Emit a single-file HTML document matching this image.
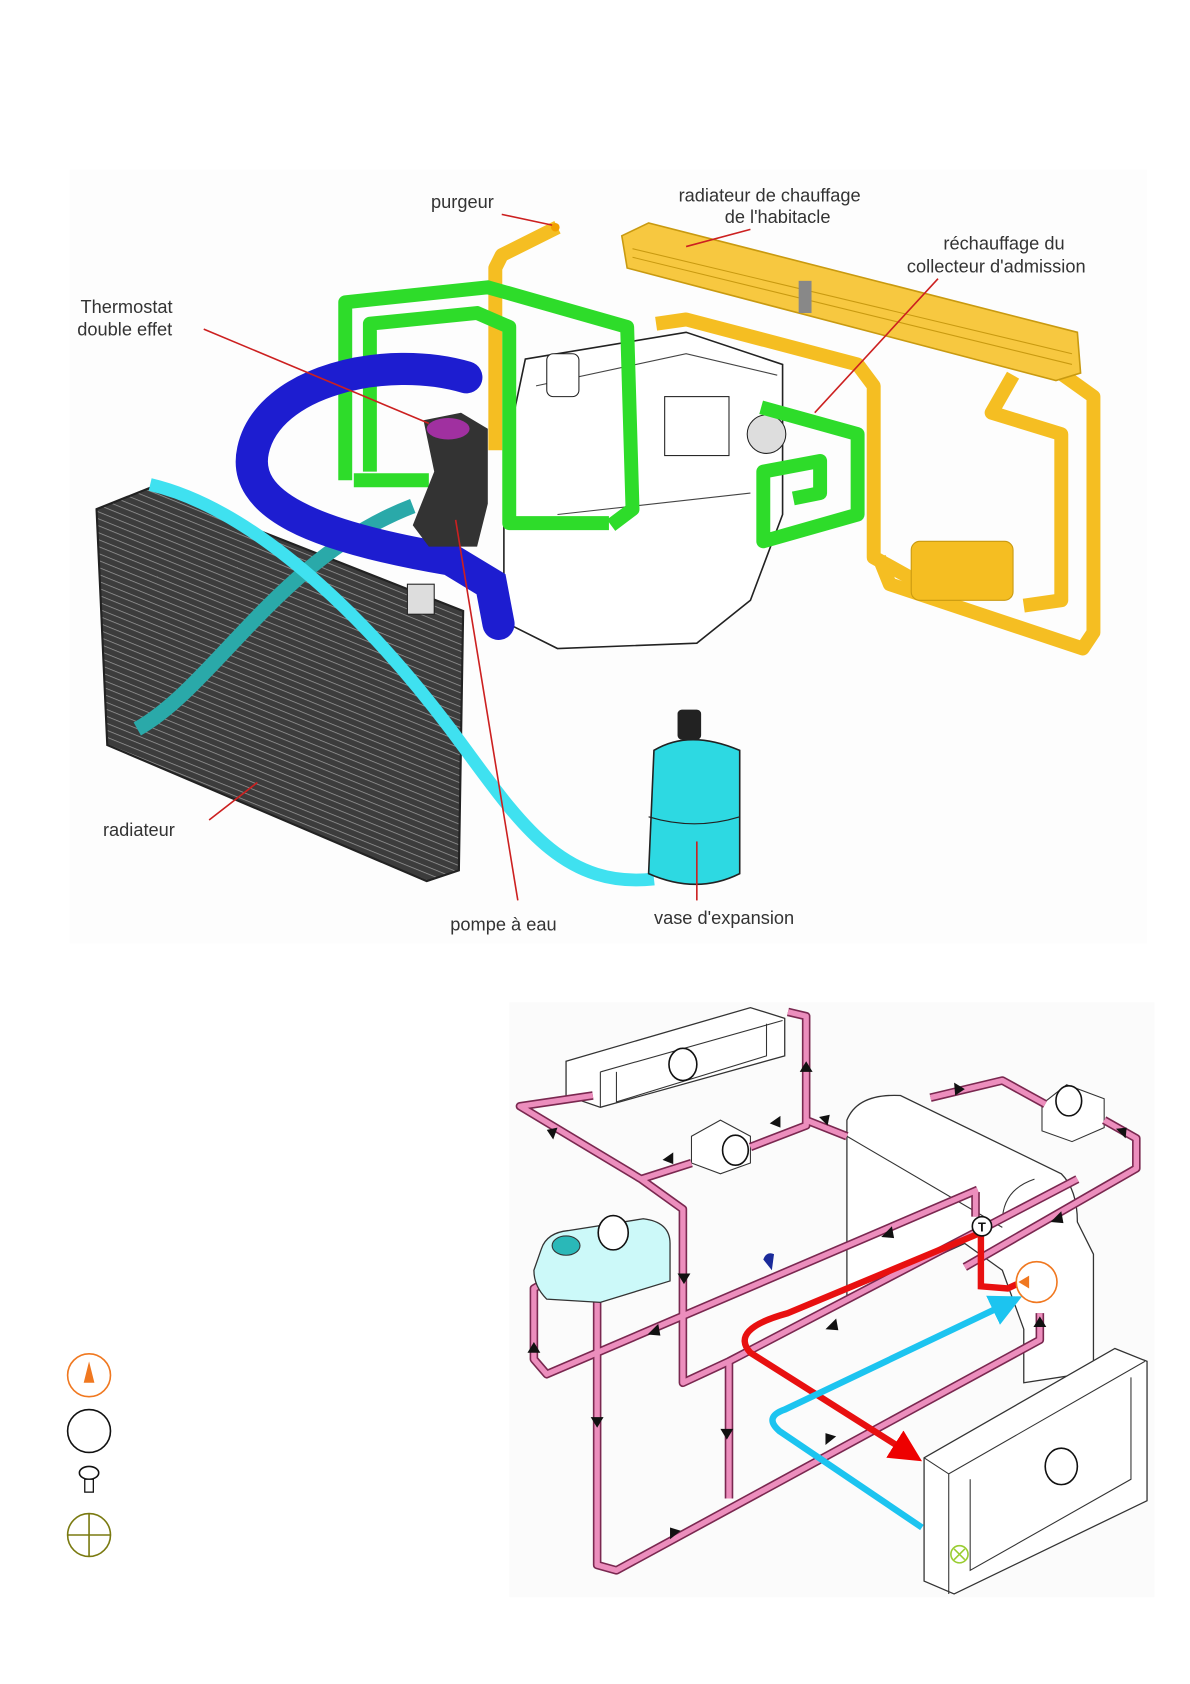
<!DOCTYPE html>
<html><head><meta charset="utf-8"><style>
html,body{margin:0;padding:0;background:#fff}
svg{display:block}
text{font-family:"Liberation Sans",sans-serif;fill:#333}
</style></head><body>
<svg width="1190" height="1684" viewBox="0 0 1110 1571" xmlns="http://www.w3.org/2000/svg">
<defs>
<pattern id="hatch" width="6" height="6" patternUnits="userSpaceOnUse" patternTransform="rotate(22)">
<rect width="6" height="6" fill="#3c3c3c"/><line x1="0" y1="0" x2="6" y2="0" stroke="#9a9a9a" stroke-width="1.4"/>
</pattern>
<marker id="ar" viewBox="0 0 10 10" refX="8" refY="5" markerWidth="5" markerHeight="5" orient="auto"><path d="M0,0L10,5L0,10z" fill="#e00"/></marker>
<marker id="ac" viewBox="0 0 10 10" refX="8" refY="5" markerWidth="5" markerHeight="5" orient="auto"><path d="M0,0L10,5L0,10z" fill="#1cc4f0"/></marker>
</defs>
<rect x="65" y="158" width="1005" height="722" fill="#fdfdfd"/>

<!-- engine block top -->
<path d="M490,335 L640,310 L730,340 L730,480 L700,560 L650,600 L520,605 L470,580 L470,430 Z" fill="#fff" stroke="#222" stroke-width="1.5"/>
<path d="M500,360 L640,330 L725,350 M520,480 L700,460" fill="none" stroke="#444" stroke-width="1"/>
<rect x="510" y="330" width="30" height="40" rx="6" fill="#fff" stroke="#222"/>
<rect x="620" y="370" width="60" height="55" fill="#fff" stroke="#222"/>
<circle cx="715" cy="405" r="18" fill="#ddd" stroke="#222"/>

<!-- yellow circuit -->
<g fill="none" stroke="#f5be22" stroke-width="13" stroke-linejoin="round">
<path d="M520,212 L468,238 L462,250 V420"/>
<path d="M612,302 L640,298 L800,340 L815,360 V520 L860,545"/>
<path d="M945,350 L925,385 L990,405 V560 L955,565"/>
<path d="M820,520 L830,545 L1010,605 L1020,590 V370 L985,345"/>
</g>
<polygon points="580,220 605,208 1005,310 1008,348 985,355 585,250" fill="#f7c840" stroke="#c99a10" stroke-width="1.5"/>
<path d="M590,232 L1000,330 M590,240 L1000,340" stroke="#c99a10" stroke-width="1"/>
<rect x="745" y="262" width="12" height="30" fill="#888"/>
<rect x="850" y="505" width="95" height="55" rx="8" fill="#f5be22" stroke="#c99a10"/>

<!-- green circuit -->
<g fill="none" stroke="#2edc2a" stroke-width="13" stroke-linejoin="round">
<path d="M322,448 V282 L455,268 L585,305 L590,475 L570,490"/>
<path d="M345,440 V302 L445,292 L475,305 V488 L568,488"/>
<path d="M330,448 L400,448"/>
<path d="M710,380 L800,405 V480 L712,505 V440 L765,430 V460 L740,465"/>
</g>

<!-- radiator -->
<polygon points="90,475 140,455 432,570 428,812 398,822 100,695" fill="url(#hatch)" stroke="#222" stroke-width="2"/>
<rect x="380" y="545" width="25" height="28" fill="#ddd" stroke="#222"/>
<!-- teal pipe -->
<path d="M128,680 C200,640 260,520 385,472" fill="none" stroke="#2aa9a9" stroke-width="14"/>
<!-- blue hose -->
<path d="M435,352 C360,330 250,355 236,420 C225,470 290,500 420,522 L458,545 L465,582" fill="none" stroke="#1d1dd0" stroke-width="30" stroke-linecap="round"/>
<!-- cyan pipe -->
<path d="M140,452 C250,478 360,600 420,680 C480,760 520,830 610,820" fill="none" stroke="#3fe1f0" stroke-width="12"/>
<!-- pump/thermostat -->
<path d="M395,392 L430,385 L455,400 L455,470 L445,510 L400,510 L385,490 L405,440 Z" fill="#333"/>
<ellipse cx="418" cy="400" rx="20" ry="10" fill="#a030a0"/>
<!-- vase -->
<rect x="632" y="662" width="22" height="28" rx="4" fill="#222"/>
<path d="M610,700 Q643,680 690,700 V815 Q650,835 605,815 Z" fill="#2dd9e2" stroke="#222" stroke-width="1.5"/>
<path d="M605,762 Q648,775 690,762" stroke="#222" fill="none"/>
<circle cx="518" cy="212" r="4" fill="#f2a000"/>

<!-- leaders -->
<g stroke="#cc2020" stroke-width="1.5" fill="none">
<path d="M468,200 L515,210"/><path d="M700,214 L640,230"/><path d="M875,260 L760,385"/>
<path d="M190,307 L400,395"/><path d="M195,765 L240,730"/><path d="M483,840 L425,485"/><path d="M650,840 L650,785"/>
</g>
<g font-size="17">
<text x="402" y="194">purgeur</text>
<text x="633" y="188">radiateur de chauffage</text>
<text x="676" y="208">de l'habitacle</text>
<text x="880" y="233">réchauffage du</text>
<text x="846" y="254">collecteur d'admission</text>
<text x="75" y="292">Thermostat</text>
<text x="72" y="313">double effet</text>
<text x="96" y="780">radiateur</text>
<text x="420" y="868">pompe à eau</text>
<text x="610" y="862">vase d'expansion</text>
</g>

<!-- ===== bottom diagram ===== -->
<rect x="475" y="935" width="602" height="555" fill="#fbfbfb"/>
<!-- engine outline -->
<path d="M790,1045 Q800,1020 840,1022 L990,1095 Q1005,1110 1005,1140 L1020,1170 V1280 L955,1290 V1240 L935,1185 L900,1160 L790,1210 Z" fill="#fff" stroke="#333" stroke-width="1.2"/>
<path d="M965,1100 Q935,1110 935,1140 M790,1060 L935,1145" fill="none" stroke="#333" stroke-width="1"/>
<!-- heater box -->
<polygon points="528,990 700,940 732,950 732,985 560,1033 528,1022" fill="#fff" stroke="#333" stroke-width="1.2"/>
<path d="M560,1000 L730,952 M560,1000 V1033 M575,1000 L575,1028 L715,985 V955" fill="none" stroke="#333"/>
<ellipse cx="637" cy="993" rx="13" ry="15" fill="#fff" stroke="#111" stroke-width="1.5"/>
<!-- small boxes -->
<polygon points="645,1060 672,1045 700,1060 700,1085 672,1095 645,1085" fill="#fff" stroke="#333"/>
<ellipse cx="686" cy="1073" rx="12" ry="14" fill="#fff" stroke="#111" stroke-width="1.5"/>
<polygon points="972,1030 995,1012 1030,1025 1030,1052 1000,1065 972,1055" fill="#fff" stroke="#333"/>
<ellipse cx="997" cy="1027" rx="12" ry="14" fill="#fff" stroke="#111" stroke-width="1.5"/>

<!-- pink pipes -->
<g fill="none" stroke-linejoin="round">
<g stroke="#7a2850" stroke-width="8">
<path d="M553,1022 L485,1032 L598,1100 L637,1128 V1290 L680,1270 L1005,1100"/>
<path d="M598,1100 L645,1085 M700,1070 L752,1050 V948 L735,944 M752,1045 L790,1060"/>
<path d="M868,1024 L935,1008 L975,1030 M1030,1045 L1060,1062 V1090 L900,1182"/>
<path d="M910,1112 V1135 M912,1110 L510,1282 L498,1268 V1202 L505,1198"/>
<path d="M557,1210 V1460 L575,1465 L970,1250 V1225"/>
<path d="M680,1270 V1398"/>
</g>
<g stroke="#ec8ebd" stroke-width="5">
<path d="M553,1022 L485,1032 L598,1100 L637,1128 V1290 L680,1270 L1005,1100"/>
<path d="M598,1100 L645,1085 M700,1070 L752,1050 V948 L735,944 M752,1045 L790,1060"/>
<path d="M868,1024 L935,1008 L975,1030 M1030,1045 L1060,1062 V1090 L900,1182"/>
<path d="M910,1112 V1135 M912,1110 L510,1282 L498,1268 V1202 L505,1198"/>
<path d="M557,1210 V1460 L575,1465 L970,1250 V1225"/>
<path d="M680,1270 V1398"/>
</g>
</g>
<!-- tank -->
<path d="M505,1165 Q510,1150 530,1148 L600,1137 Q625,1140 625,1160 V1195 L560,1215 L510,1212 Q498,1200 498,1185 Z" fill="#ccf9f9" stroke="#333" stroke-width="1.2"/>
<ellipse cx="528" cy="1162" rx="13" ry="9" fill="#2ab8b8" stroke="#333"/>
<ellipse cx="572" cy="1150" rx="14" ry="16" fill="#fff" stroke="#111" stroke-width="1.5"/>
<path d="M712,1175 Q715,1167 722,1170 L720,1185 Z" fill="#1a2a9a"/>
<!-- radiator box -->
<polygon points="862,1360 1040,1258 1070,1270 1070,1400 890,1487 862,1475" fill="#fff" stroke="#333" stroke-width="1.2"/>
<path d="M862,1360 L885,1375 L1068,1270 M885,1375 V1487 M905,1380 V1465 L1055,1380 V1285" fill="none" stroke="#333"/>
<ellipse cx="990" cy="1368" rx="15" ry="17" fill="#fff" stroke="#111" stroke-width="1.5"/>
<circle cx="895" cy="1450" r="8" fill="none" stroke="#9acd32" stroke-width="1.5"/>
<path d="M890,1445 L900,1455 M900,1445 L890,1455" stroke="#9acd32" stroke-width="1.5"/>

<!-- red & cyan -->
<path d="M915,1150 L735,1225 Q680,1240 700,1262 L855,1360" fill="none" stroke="#e81010" stroke-width="6" marker-end="url(#ar)"/>
<path d="M915,1150 V1200 L940,1202 L955,1195" fill="none" stroke="#e81010" stroke-width="6"/>
<path d="M860,1425 L727,1335 Q712,1322 732,1315 L948,1212" fill="none" stroke="#1cc4f0" stroke-width="6" marker-end="url(#ac)"/>
<circle cx="967" cy="1196" r="19" fill="#fff" stroke="#f07820" stroke-width="1.5"/>
<path d="M950,1196 L960,1190 V1202 Z" fill="#f07820"/>
<circle cx="916" cy="1144" r="9" fill="#fff" stroke="#111" stroke-width="1.5"/>
<text x="916" y="1149" font-size="12" font-weight="bold" text-anchor="middle" style="fill:#111">T</text>

<!-- arrows -->
<g fill="#111">
<path d="M752,990 l-6,10 h12z"/><path d="M516,1063 l-6,-9 l10,-2z"/>
<path d="M718,1048 l10,-7 v11z"/><path d="M618,1082 l10,-7 v11z"/>
<path d="M772,1050 l-8,-8 l10,-2z"/><path d="M900,1016 l-10,-6 l1,12z"/>
<path d="M1050,1062 l-9,-9 l10,-1z"/><path d="M980,1140 l10,-10 l2,11z"/>
<path d="M822,1154 l10,-10 l2,11z"/><path d="M604,1245 l10,-10 l2,11z"/>
<path d="M638,1198 l-6,-10 h12z"/><path d="M498,1252 l-6,10 h12z"/>
<path d="M557,1332 l-6,-10 h12z"/><path d="M678,1343 l-6,-10 h12z"/>
<path d="M770,1240 l10,-10 l2,11z"/><path d="M780,1340 l-10,8 l0,-11z"/>
<path d="M635,1428 l-10,8 l0,-11z"/><path d="M970,1228 l-6,10 h12z"/>
</g>

<!-- legend -->
<circle cx="83" cy="1283" r="20" fill="#fff" stroke="#f07820" stroke-width="1.5"/>
<path d="M78,1290 L83,1270 L88,1290 Z" fill="#f07820"/>
<circle cx="83" cy="1335" r="20" fill="#fff" stroke="#111" stroke-width="1.5"/>
<ellipse cx="83" cy="1374" rx="9" ry="6" fill="#fff" stroke="#111" stroke-width="1.5"/>
<rect x="79" y="1380" width="8" height="12" fill="#fff" stroke="#111" stroke-width="1.2"/>
<circle cx="83" cy="1432" r="20" fill="#fff" stroke="#7a7a10" stroke-width="1.5"/>
<path d="M63,1432 H103 M83,1412 V1452" stroke="#7a7a10" stroke-width="1.5"/>
</svg>
</body></html>
